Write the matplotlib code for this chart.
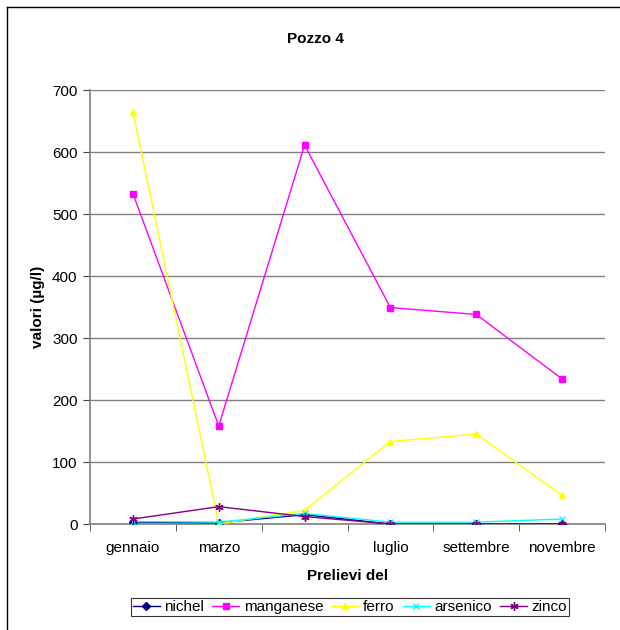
import matplotlib
matplotlib.use("Agg")
import matplotlib.pyplot as plt
from matplotlib.lines import Line2D

plt.rcParams['font.family'] = ['Liberation Sans', 'DejaVu Sans']

months = ["gennaio", "marzo", "maggio", "luglio", "settembre", "novembre"]
nichel = [3, 2, 15, 0, 0, 0]
manganese = [533, 158, 611, 349, 338, 234]
ferro = [665, 0, 22, 133, 145, 46]
arsenico = [4, 3, 17, 3, 3, 8]
zinco = [8, 28, 12, 0, 0, 0]
yticks = [0, 100, 200, 300, 400, 500, 600, 700]

FS = 11
fig = plt.figure(figsize=(6.2, 6.3), dpi=100)
ax = fig.add_axes([90/620, (630-524)/630, 515/620, 434/630])

x = list(range(len(months)))
series = [
    ("nichel", nichel, "#000080", "D", 4),
    ("manganese", manganese, "#FF00FF", "s", 4.5),
    ("ferro", ferro, "#FFFF00", "^", 5),
    ("arsenico", arsenico, "#00FFFF", "x", 5),
    ("zinco", zinco, "#800080", (6, 2, 0), 6),
]
handles = []
for name, vals, col, mk, ms in series:
    ln, = ax.plot(x, vals, color=col, marker=mk, markersize=ms, linewidth=1.0,
                  markeredgecolor=col, markerfacecolor=col, markeredgewidth=1.0,
                  label=name, zorder=3)
    handles.append(ln)

ax.set_xlim(-0.5, len(months) - 0.5)
ax.set_ylim(0, 700)
ax.set_yticks(yticks)
ax.set_yticklabels([str(v) for v in yticks], fontsize=FS)
ax.set_xticks(x)
ax.set_xticklabels(months, fontsize=FS)
ax.set_xticks([i - 0.5 for i in range(len(months) + 1)], minor=True)
ax.tick_params(axis='x', which='major', length=0, pad=12)
ax.tick_params(axis='x', which='minor', length=5, direction='out', color='#404040')
ax.tick_params(axis='y', length=5, direction='out', color='#404040', pad=4)

ax.grid(axis='y', color='#808080', linewidth=1.0, zorder=1)
ax.set_axisbelow(True)
for s in ['top', 'right']:
    ax.spines[s].set_visible(False)
ax.spines['left'].set_color('#808080')
ax.spines['bottom'].set_color('#808080')
ax.spines['left'].set_linewidth(1.2)
ax.spines['bottom'].set_linewidth(1.2)

ax.set_ylabel("valori (µg/l)", fontsize=FS, fontweight='bold', labelpad=5)
ax.set_xlabel("Prelievi del", fontsize=FS, fontweight='bold', labelpad=10)
fig.text(315/620, 1 - 39/630, "Pozzo 4", ha='center', va='center',
         fontsize=FS, fontweight='bold')

leg = fig.legend(handles=handles, loc='center', bbox_to_anchor=(350/620, 1 - 607/630),
                 ncol=5, fontsize=FS, frameon=True, fancybox=False, edgecolor='black',
                 handlelength=1.75, handletextpad=0.3, columnspacing=0.55,
                 borderpad=0.15, borderaxespad=0)
leg.get_frame().set_linewidth(0.8)

# outer chart-area border (left and top visible)
fig.add_artist(Line2D([7/620, 7/620], [0, 1 - 7/630], color='black', linewidth=1.0,
                      transform=fig.transFigure))
fig.add_artist(Line2D([7/620, 1], [1 - 7/630, 1 - 7/630], color='black', linewidth=1.0,
                      transform=fig.transFigure))

fig.savefig("out.png", dpi=100, facecolor='white')
